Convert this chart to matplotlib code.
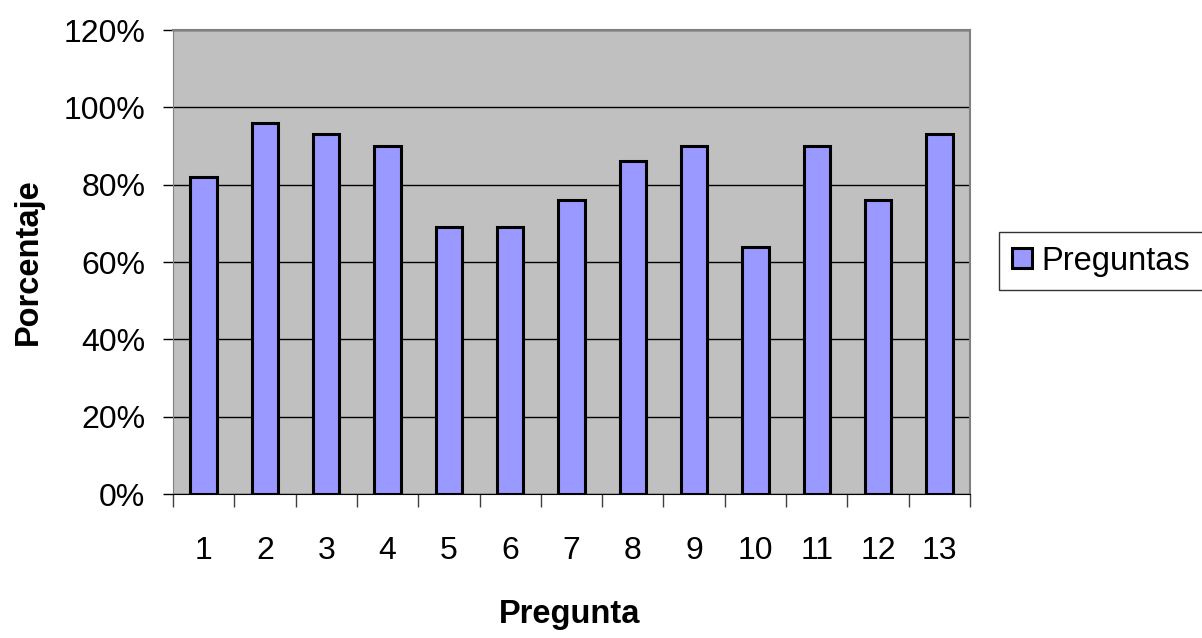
import numpy as np
import matplotlib.pyplot as plt
from matplotlib.ticker import PercentFormatter

# Data
preguntas = [str(i) for i in range(1, 14)]
porcentaje = [82, 96, 93, 90, 69, 69, 76, 86, 90, 64, 90, 76, 93]
serie = "Preguntas"

plt.rcParams['font.family'] = ['Liberation Sans', 'DejaVu Sans']
fs = 23

fig = plt.figure(figsize=(12.02, 6.38), dpi=100)
ax = fig.add_axes([173 / 1202, 1 - 494 / 638, 797 / 1202, 464 / 638])

x = np.arange(1, len(preguntas) + 1)
ax.set_facecolor('#C0C0C0')
ax.set_axisbelow(True)
ax.grid(axis='y', color='black', linewidth=1.0)
ax.bar(x, porcentaje, width=0.43, color='#9999FF', edgecolor='black',
       linewidth=2.2, label=serie, zorder=3)

ax.set_xlim(0.5, len(preguntas) + 0.5)
ax.set_ylim(0, 120)
ax.set_yticks(np.arange(0, 121, 20))
ax.yaxis.set_major_formatter(PercentFormatter(decimals=0))

# category boundaries as ticks, labels at centres
ax.set_xticks(np.arange(0.5, len(preguntas) + 1, 1))
ax.set_xticklabels([])
ax.set_xticks(x, minor=True)
ax.set_xticklabels(preguntas, minor=True)
ax.tick_params(axis='x', which='major', direction='out', length=9, width=1, color='#404040')
ax.tick_params(axis='x', which='minor', length=0, pad=30, labelsize=fs)
ax.tick_params(axis='y', direction='out', length=7, width=1, pad=13, labelsize=fs)

for side in ['top', 'right']:
    ax.spines[side].set_color('#808080')
    ax.spines[side].set_linewidth(1.5)
ax.spines['left'].set_color('#808080')
ax.spines['bottom'].set_color('black')

fig.text(570 / 1202, 1 - 614 / 638, "Pregunta", fontsize=fs + 0.5,
         fontweight='bold', ha='center', va='center')
fig.text(28 / 1202, 1 - 262 / 638, "Porcentaje", fontsize=fs + 0.5,
         fontweight='bold', ha='center', va='center', rotation=90)

leg = fig.legend(loc='center left', bbox_to_anchor=(999 / 1202, 1 - 261 / 638),
                 fontsize=fs + 0.5, frameon=True, fancybox=False, edgecolor='black',
                 handlelength=0.6, handleheight=0.6, handletextpad=0.3,
                 borderpad=0.4, borderaxespad=0)
leg.get_frame().set_linewidth(1.0)

fig.savefig('out.png', dpi=100)
